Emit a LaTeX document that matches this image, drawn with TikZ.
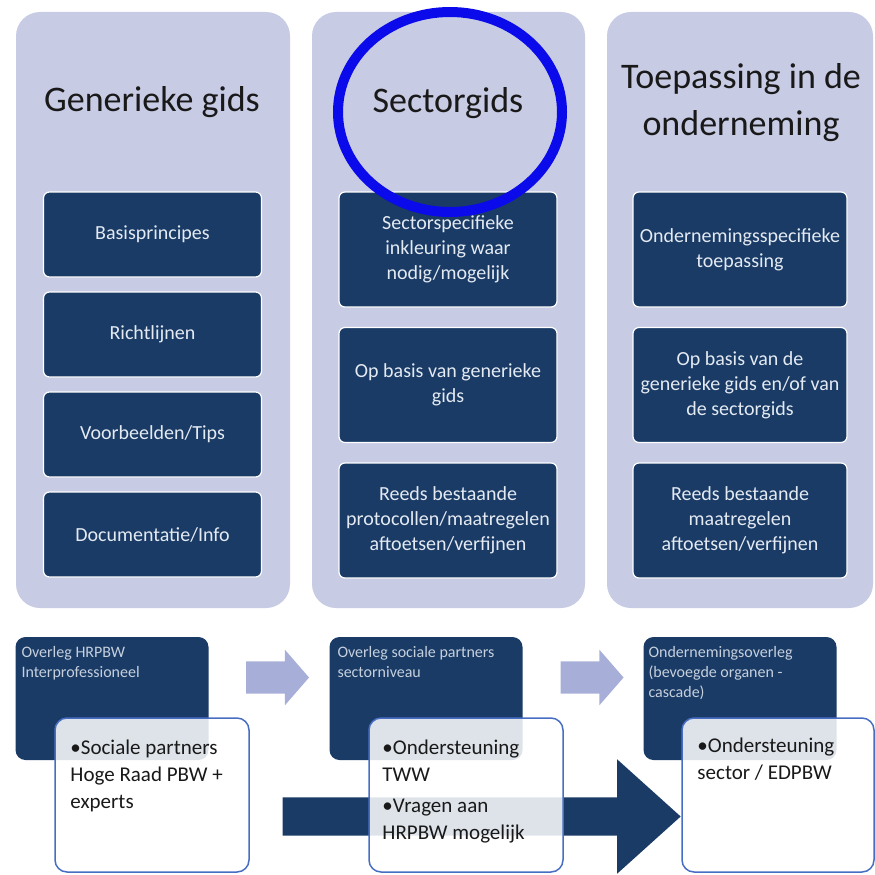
\documentclass[tikz,border=0pt]{standalone}
\usepackage{fontspec}
\setmainfont{Carlito}
\usepackage{tikz}
\usetikzlibrary{positioning,shapes.geometric,shapes.arrows}

\definecolor{paneel}{RGB}{199,203,228}
\definecolor{navy}{RGB}{26,59,102}
\definecolor{lichtpijl}{RGB}{167,175,216}
\definecolor{kaderrand}{RGB}{72,110,196}
\definecolor{cirkelblauw}{RGB}{10,10,235}
\definecolor{lichttekst}{RGB}{228,234,242}

\begin{document}
\begin{tikzpicture}[x=1pt, y=-1pt,
  kolom/.style={fill=paneel, rounded corners=24pt, minimum width=274pt, minimum height=596pt},
  kop/.style={font=\fontsize{36}{47}\selectfont, align=center, text=black!90},
  blok/.style={draw=white, line width=1.2pt, fill=navy, rounded corners=6pt, text=lichttekst, align=center, font=\fontsize{20}{25}\selectfont, minimum width=218pt, inner sep=2pt},
  overleg/.style={fill=navy, rounded corners=10pt, minimum width=193pt, minimum height=123pt},
  overlegtxt/.style={text=lichttekst!85!navy, align=left, font=\fontsize{16}{20}\selectfont, inner sep=0pt},
  kader/.style={draw=kaderrand, line width=1.5pt, fill=white, fill opacity=0.86, rounded corners=12pt, minimum width=194pt, minimum height=154pt},
  kadertxt/.style={align=left, font=\fontsize{21}{27}\selectfont, inner sep=0pt, text=black!90},
  pijl/.style={single arrow, fill=lichtpijl, minimum height=63pt, inner ysep=16pt, single arrow head extend=11.5pt, single arrow tip angle=98}]
\useasboundingbox (0,0) rectangle (875,875);
% three columns
\node[kolom] (kol1) at (153,310) {};
\node[kolom, minimum width=273pt] (kol2) at (448.5,310) {};
\node[kolom, minimum width=266pt] (kol3) at (740,310) {};
\node[kop] (kop1) at (152,102) {Generieke gids};
\node[kop] (kop2) at (448,103) {Sectorgids};
\node[kop] (kop3) at (741,103) {Toepassing in de\\onderneming};
\foreach \t [count=\i] in {Basisprincipes, Richtlijnen, Voorbeelden/Tips, Documentatie/Info}
  \node[blok, minimum height=85pt] (gen\i) at (152.5, 134.5+100*\i) {\t};
\foreach \t [count=\i] in {{Sectorspecifieke\\inkleuring waar\\nodig/mogelijk}, {Op basis van generieke\\gids}, {Reeds bestaande\\protocollen/maatregelen\\aftoetsen/verfijnen}}
  \node[blok, minimum height=115pt] (sec\i) at (448, 114+135.5*\i) {\t};
\foreach \t [count=\i] in {{Ondernemingsspecifieke\\toepassing}, {Op basis van de\\generieke gids en/of van\\de sectorgids}, {Reeds bestaande\\maatregelen\\aftoetsen/verfijnen}}
  \node[blok, minimum height=115pt, minimum width=214pt] (ond\i) at (740, 114+135.5*\i) {\t};
\node[ellipse, draw=cirkelblauw, line width=10pt, minimum width=224pt, minimum height=200pt] (cirkel) at (450,112) {};
% overleg level
\node[pijl] (pijlA) at (270.5,677.5) {};
\node[pijl] (pijlB) at (585,677.5) {};
\node[overleg] (ovA) at (112,698.5) {};
\node[overleg] (ovB) at (426,698.5) {};
\node[overleg] (ovC) at (740,698.5) {};
\node[overlegtxt, below right=9pt and 6pt of ovA.north west] {Overleg HRPBW\\Interprofessioneel};
\node[overlegtxt, below right=9pt and 8pt of ovB.north west] {Overleg sociale partners\\sectorniveau};
\node[overlegtxt, below right=9pt and 5pt of ovC.north west] {Ondernemingsoverleg\\(bevoegde organen -\\cascade)};
\node[single arrow, fill=navy, minimum height=398pt, inner ysep=19pt, single arrow head extend=38pt, single arrow tip angle=84] (groot) at (471,816.5) {};
\node[kader] (kA) at (152,795) {};
\node[kader] (kB) at (466,795) {};
\node[kader, minimum width=192pt] (kC) at (778,795) {};
\node[kadertxt, below right=22pt and 16pt of kA.north west] {\textbullet Sociale partners\\Hoge Raad PBW +\\experts};
\node[kadertxt, below right=22pt and 14pt of kB.north west] {\textbullet Ondersteuning\\TWW\\[4pt]\textbullet Vragen aan\\HRPBW mogelijk};
\node[kadertxt, below right=20pt and 16pt of kC.north west] {\textbullet Ondersteuning\\sector / EDPBW};
\end{tikzpicture}
\end{document}
